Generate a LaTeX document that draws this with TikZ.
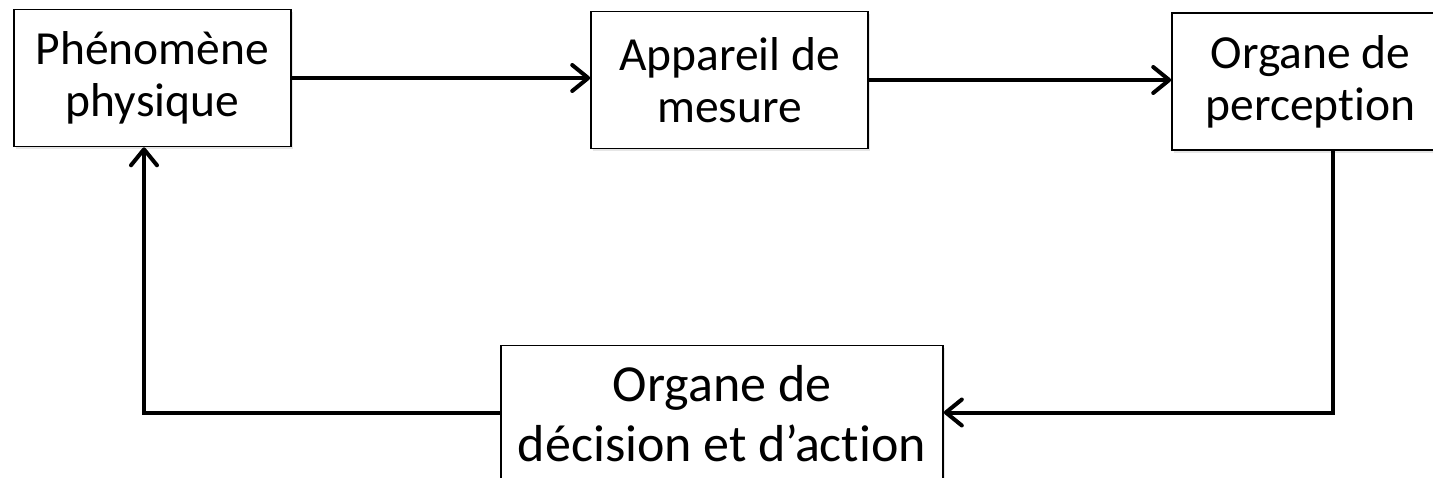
\documentclass[tikz,border=0pt]{standalone}
\usepackage{fontspec}
\setmainfont{Carlito}[Ligatures={TeX,NoCommon}]
\usetikzlibrary{arrows.meta, shadows}
\tikzset{>={Straight Barb[length=16pt,width=26pt,line cap=round,line join=round]}}
\tikzset{bloc/.style={draw, line width=1.6pt, fill=white, align=center, inner sep=0pt,
  minimum width=277pt, minimum height=137pt, font=\fontsize{47.5}{52}\selectfont,
  drop shadow={shadow xshift=2pt, shadow yshift=-3pt, opacity=0.2}}}
\tikzset{fleche/.style={line width=4pt, ->}}

\begin{document}
\begin{tikzpicture}[x=1pt, y=-1pt]
\useasboundingbox (0,0) rectangle (1433,478);
\clip (0,0) rectangle (1433,478);
% les blocs
\node[bloc] (phen) at (152.5,78) {Phénomène\\physique};
\node[bloc] (app) at (729.5,80) {Appareil de\\mesure};
\node[bloc] (perc) at (1310.5,81.5) {Organe de\\perception};
\node[bloc, minimum width=442pt, font=\fontsize{52}{60}\selectfont] (dec) at (722,414) {Organe de\\décision et d’action};
% la boucle
\coordinate (coinD) at (1333,412.5);
\coordinate (coinG) at (144,412.5);
\draw[fleche] (phen.east |- 0,78) -- (app.west |- 0,78);
\draw[fleche] (app.east |- 0,80) -- (perc.west |- 0,80);
\draw[fleche] (perc.south -| coinD) -- (coinD) -- (dec.east |- coinD);
\draw[fleche] (dec.west |- coinG) -- (coinG) -- (phen.south -| coinG);
\end{tikzpicture}
\end{document}
